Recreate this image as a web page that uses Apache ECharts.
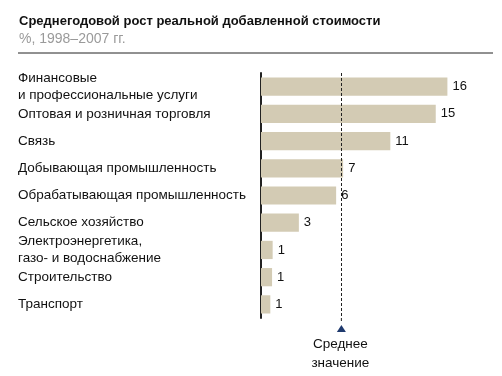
<!DOCTYPE html>
<html>
<head>
<meta charset="utf-8">
<script src="https://cdn.jsdelivr.net/npm/echarts@6/dist/echarts.min.js"></script>
<style>
  html, body { margin: 0; padding: 0; background: #fff; }
  #chart { width: 502px; height: 376px; }
</style>
</head>
<body>
<div id="chart"></div>
<script>
// данные
var categories = [
  "Финансовые\nи профессиональные услуги",
  "Оптовая и розничная торговля",
  "Связь",
  "Добывающая промышленность",
  "Обрабатывающая промышленность",
  "Сельское хозяйство",
  "Электроэнергетика,\nгазо- и водоснабжение",
  "Строительство",
  "Транспорт"
];
var values = [16, 15, 11.1, 7.05, 6.45, 3.25, 1.0, 0.95, 0.8];
var meanValue = 6.9;
var meanLabel = "Среднее\nзначение";
var titleText = "Среднегодовой рост реальной добавленной стоимости";
var subText = "%, 1998–2007 гг.";

var font = "'Liberation Sans', Arial, sans-serif";
var myChart = echarts.init(document.getElementById("chart"));

var option = {
  animation: false,
  title: {
    text: titleText,
    subtext: subText,
    left: 14,
    top: 10,
    itemGap: 4,
    textStyle: { fontFamily: font, fontSize: 13, fontWeight: "bold", color: "#111" },
    subtextStyle: { fontFamily: font, fontSize: 14, color: "#9a9a9a" }
  },
  grid: { left: 261, top: 73, height: 245, width: 233 },
  xAxis: {
    type: "value",
    min: 0,
    max: 20,
    show: false
  },
  yAxis: {
    type: "category",
    data: categories,
    inverse: true,
    axisLine: { show: true, lineStyle: { color: "#222", width: 2 } },
    axisTick: { show: false },
    axisLabel: {
      align: "left",
      margin: 243,
      fontFamily: font,
      fontSize: 13.5,
      color: "#111",
      lineHeight: 17
    }
  },
  series: [
    {
      type: "bar",
      data: values,
      barCategoryGap: "33%",
      itemStyle: { color: "#d3cbb4" },
      label: {
        show: true,
        position: "right",
        distance: 5,
        fontFamily: font,
        fontSize: 13,
        color: "#111",
        formatter: function (p) { return Math.round(p.value); }
      },
      markLine: {
        silent: true,
        symbol: ["none", "none"],
        label: { show: false },
        lineStyle: { color: "#222", type: [3, 2], width: 1 },
        data: [{ xAxis: meanValue }]
      }
    }
  ]
};
myChart.setOption(option);

// линия под заголовком, треугольник и подпись среднего
var mx = myChart.convertToPixel({ xAxisIndex: 0 }, meanValue);
var gb = 73 + 245;
myChart.setOption({
  graphic: [
    {
      type: "line",
      shape: { x1: 18, y1: 53, x2: 493, y2: 53 },
      style: { stroke: "#222", lineWidth: 1 }
    },
    {
      type: "line",
      shape: { x1: mx, y1: gb, x2: mx, y2: gb + 5 },
      style: { stroke: "#222", lineWidth: 1, lineDash: [3, 2] }
    },
    {
      type: "polygon",
      shape: { points: [[mx, gb + 7], [mx - 4.5, gb + 14], [mx + 4.5, gb + 14]] },
      style: { fill: "#1f3a6e" }
    },
    {
      type: "text",
      x: mx - 1,
      y: gb + 17,
      style: {
        text: meanLabel,
        fontFamily: font,
        fontSize: 13.5,
        fill: "#111",
        align: "center",
        lineHeight: 19
      }
    }
  ]
});
</script>
</body>
</html>
